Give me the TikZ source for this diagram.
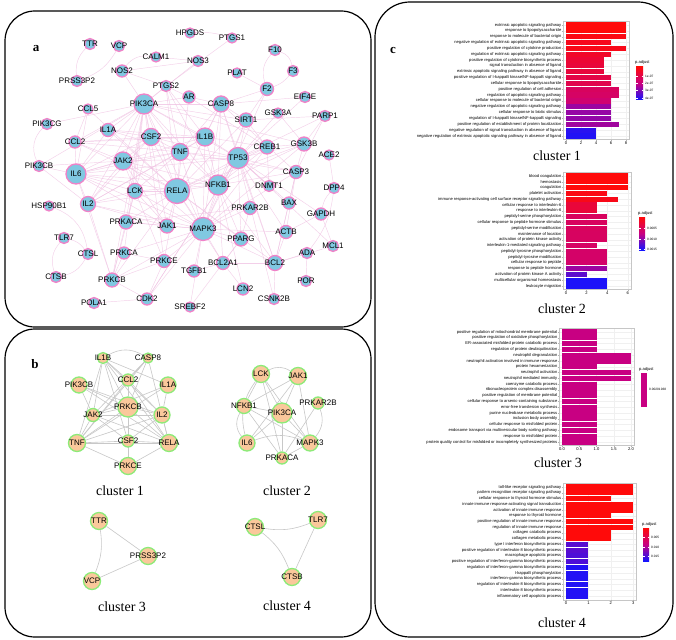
\documentclass[tikz,border=0pt]{standalone}
\usepackage{fontspec}
\setmainfont{Liberation Serif}
\setsansfont{Liberation Sans}
\usetikzlibrary{backgrounds}

\definecolor{nodeblue}{RGB}{128,200,225}
\definecolor{nodepink}{RGB}{240,130,200}
\definecolor{edgepink}{RGB}{240,192,226}
\definecolor{nodepeach}{RGB}{250,200,155}
\definecolor{nodegreen}{RGB}{140,235,120}
\definecolor{edgegray}{RGB}{200,200,200}
\definecolor{gored}{RGB}{255,10,10}
\definecolor{gomid}{RGB}{200,0,130}
\definecolor{goblue}{RGB}{20,20,255}

\tikzset{
  anode/.style={circle, fill=nodeblue, draw=nodepink, line width=1.3pt, inner sep=0pt},
  bnode/.style={circle, fill=nodepeach, draw=nodegreen, line width=1.3pt, inner sep=0pt},
  glabel/.style={font=\sffamily\fontsize{8}{8}\selectfont, text=black, inner sep=0pt},
  aedge/.style={draw=edgepink, line width=0.45pt, opacity=0.75},
  bedge/.style={draw=edgegray, line width=0.6pt},
  panel/.style={draw=black, line width=1.2pt, rounded corners=30pt},
  panlabel/.style={font=\bfseries\fontsize{13}{13}\selectfont, inner sep=0pt},
  clustercap/.style={font=\fontsize{14}{14}\selectfont, inner sep=0pt},
  golab/.style={font=\sffamily\fontsize{4.1}{4.1}\selectfont, anchor=east, inner sep=0pt},
  gotick/.style={font=\sffamily\fontsize{4.1}{4.1}\selectfont, inner sep=0pt},
  gokey/.style={font=\sffamily\fontsize{3.2}{3.2}\selectfont, anchor=west, inner sep=0pt},
  goframe/.style={draw=gray!45, line width=0.4pt},
  gogrid/.style={draw=gray!12, line width=0.3pt},
  gomark/.style={draw=gray!60, line width=0.3pt},
}

\begin{document}
\begin{tikzpicture}[x=1pt, y=-1pt]
\useasboundingbox (0,0) rectangle (676,639);

% Panels
\draw[panel] (5,11) rectangle (371,327);
\draw[panel] (5,329) rectangle (371,637);
\draw[panel, rounded corners=35pt] (375,2) rectangle (673,637);
\node[panlabel] (lab-a) at (36,49) {a};
\node[panlabel] (lab-b) at (35,364) {b};
\node[panlabel] (lab-c) at (393,50) {c};

% a: PPI network
\foreach \n/\x/\y/\d in {TTR/90/44/11, VCP/119/46/11, CALM1/156/57/10, NOS2/122/71/12,
  PRSS3P2/77/81/11, PTGS2/166/86/11, PIK3CA/144/104/20, CCL5/88/109/10, PIK3CG/47/124/11,
  IL1A/108/130/13, CCL2/75/142/12, CSF2/151/137/17, TNF/180/152/17, JAK2/123/161/18,
  PIK3CB/39/166/11, IL6/76/174/20, HPGDS/190/33/10, PTGS1/232/38/10, F10/275/50/11,
  NOS3/198/61/11, PLAT/237/73/10, F3/293/71/11, F2/267/89/13, AR/189/97/12,
  EIF4E/305/97/11, CASP8/221/104/16, GSK3A/278/113/10, PARP1/325/116/11, SIRT1/246/120/14,
  IL1B/205/137/18, GSK3B/304/144/14, CREB1/267/147/14, TP53/238/158/21, ACE2/329/155/10,
  CASP3/296/172/13, NFKB1/218/185/20, DNMT1/269/186/11, DPP4/334/188/11, LCK/135/191/15,
  RELA/177/191/25, HSP90B1/49/206/10, IL2/88/204/15, PRKACA/126/222/14, JAK1/167/226/14,
  TLR7/64/238/11, CTSL/88/254/11, PRKCA/124/253/12, PRKCE/164/261/13, CTSB/56/277/11,
  PRKCB/112/280/14, POLA1/94/303/11, CDK2/147/299/12, BAX/289/203/12, PRKAR2B/250/208/13,
  GAPDH/321/214/12, MAPK3/203/229/23, ACTB/286/232/13, PPARG/241/239/14, MCL1/333/246/11,
  ADA/307/253/11, BCL2A1/223/263/13, BCL2/275/263/15, TGFB1/194/271/12, POR/306/281/11,
  LCN2/243/289/12, CSNK2B/274/299/11, SREBF2/190/307/10}
  \node[anode, minimum size=\d pt, label={[glabel]center:\n}] (a-\n) at (\x,\y) {};

% b: clusters
\foreach \n/\x/\y/\d in {IL1B/103/358/11, CASP8/148/358/10, PIK3CB/79/385/16, CCL2/128/380/12,
  IL1A/168/385/16, PRKCB/128/407/20, JAK2/93/415/13, IL2/162/415/16, TNF/77/443/17,
  CSF2/128/441/12, RELA/169/443/17, PRKCE/128/466/17,
  LCK/261/374/17, JAK1/298/376/17, NFKB1/244/406/15, PIK3CA/282/413/20, PRKAR2B/318/403/12,
  IL6/247/443/16, MAPK3/310/443/16, PRKACA/282/458/12,
  TTR/99/521/17, PRSS3P2/148/556/17, VCP/92/581/17,
  CTSL/255/527/17, TLR7/318/520/17, CTSB/292/577/17}
  \node[bnode, minimum size=\d pt, label={[glabel]center:\n}] (b-\n) at (\x,\y) {};

\node[clustercap] (cap-b1) at (120,491) {cluster 1};
\node[clustercap] (cap-b2) at (287,491) {cluster 2};
\node[clustercap] (cap-b3) at (122,607) {cluster 3};
\node[clustercap] (cap-b4) at (287,606) {cluster 4};

\begin{scope}[on background layer]
  \fill[white] (0,0) rectangle (676,639);
  % a edges
  \foreach \src/\dst in {PIK3CA/IL1A, PIK3CA/CSF2, PIK3CA/TNF, PIK3CA/JAK2, PIK3CA/IL6, PIK3CA/LCK,
    PIK3CA/RELA, PIK3CA/NFKB1, PIK3CA/MAPK3, PIK3CA/PRKCB, PIK3CA/PRKCE, PIK3CA/PRKACA,
    PIK3CA/IL1B, PIK3CA/CASP8, PIK3CA/TP53, PIK3CA/NOS2, PIK3CA/PTGS2, PIK3CA/AR, PIK3CA/CCL2,
    PIK3CA/IL2, PIK3CA/JAK1, PIK3CA/PRKCA, PIK3CA/PIK3CG, PIK3CA/PIK3CB, PIK3CA/NOS3,
    PIK3CA/SIRT1, PIK3CA/GSK3B,
    RELA/TNF, RELA/IL1B, RELA/NFKB1, RELA/TP53, RELA/MAPK3, RELA/IL6, RELA/IL2, RELA/JAK2,
    RELA/CSF2, RELA/LCK, RELA/JAK1, RELA/PRKACA, RELA/CASP8, RELA/SIRT1, RELA/CREB1, RELA/IL1A,
    RELA/CCL2, RELA/PTGS2, RELA/PPARG, RELA/BCL2, RELA/BCL2A1, RELA/PRKCB, RELA/PRKCE, RELA/CCL5,
    RELA/GSK3B, RELA/AR,
    MAPK3/TP53, MAPK3/NFKB1, MAPK3/TNF, MAPK3/IL6, MAPK3/JAK2, MAPK3/JAK1, MAPK3/LCK, MAPK3/PRKCE,
    MAPK3/PRKCA, MAPK3/PRKACA, MAPK3/PRKCB, MAPK3/CREB1, MAPK3/PPARG, MAPK3/BCL2, MAPK3/BCL2A1,
    MAPK3/TGFB1, MAPK3/CASP3, MAPK3/GSK3B, MAPK3/PRKAR2B, MAPK3/CASP8, MAPK3/IL1B, MAPK3/SIRT1,
    MAPK3/CDK2, MAPK3/IL2, MAPK3/SREBF2, MAPK3/ACTB, MAPK3/F2,
    TP53/NFKB1, TP53/TNF, TP53/IL1B, TP53/SIRT1, TP53/CREB1, TP53/CASP3, TP53/CASP8, TP53/GSK3B,
    TP53/BAX, TP53/BCL2, TP53/DNMT1, TP53/IL6, TP53/CDK2, TP53/PARP1, TP53/GAPDH, TP53/MCL1,
    TP53/ACTB, TP53/PPARG, TP53/CSNK2B, TP53/GSK3A, TP53/EIF4E, TP53/JAK2, TP53/CSF2,
    NFKB1/TNF, NFKB1/IL1B, NFKB1/IL6, NFKB1/CASP8, NFKB1/SIRT1, NFKB1/CREB1, NFKB1/GSK3B,
    NFKB1/BCL2, NFKB1/BCL2A1, NFKB1/PPARG, NFKB1/LCN2, NFKB1/JAK2, NFKB1/LCK, NFKB1/PTGS2,
    NFKB1/CASP3,
    IL6/TNF, IL6/IL1B, IL6/JAK2, IL6/CSF2, IL6/IL2, IL6/CCL2, IL6/IL1A, IL6/LCK, IL6/JAK1,
    IL6/PIK3CB, IL6/CCL5, IL6/PRKCB,
    TNF/IL1B, TNF/CSF2, TNF/IL1A, TNF/CCL2, TNF/JAK2, TNF/CASP8, TNF/IL2, TNF/LCK, TNF/CASP3,
    TNF/PTGS2, IL1B/CSF2, IL1B/IL1A, IL1B/CCL2, IL1B/CASP8, IL1B/IL2, IL1B/PTGS2, IL1B/CREB1,
    JAK2/CSF2, JAK2/IL2, JAK2/JAK1, JAK2/LCK, JAK2/CCL2, JAK2/PIK3CB, CSF2/IL2, CSF2/IL1A,
    CSF2/CCL2, CSF2/LCK, LCK/IL2, LCK/JAK1, LCK/PRKACA, LCK/PRKCB, LCK/PRKCE, IL2/JAK1,
    IL2/PRKCB, IL2/PIK3CB, JAK1/PRKACA, PRKACA/PRKCB, PRKACA/PRKAR2B, PRKCA/PRKCB, PRKCA/PRKCE,
    PRKCE/PRKCB, PRKCE/CDK2, PRKCB/CDK2,
    CASP8/CASP3, CASP8/SIRT1, CASP8/AR, CASP8/F2, CASP8/EIF4E, CASP8/BCL2, CASP3/BAX, CASP3/BCL2,
    CASP3/GSK3B, CASP3/PARP1, CASP3/ACTB, BAX/BCL2, BCL2/MCL1, BCL2/BCL2A1, BCL2/ACTB,
    BCL2/CSNK2B, BCL2/ADA, GAPDH/ACTB, GAPDH/MCL1, ADA/POR, SIRT1/CREB1, SIRT1/PARP1,
    GSK3B/CREB1, GSK3B/PARP1, GSK3A/GSK3B, PTGS2/NOS2, PTGS2/AR, NOS2/NOS3, CALM1/NOS3,
    PTGS2/PTGS1, PLAT/F2, F2/SIRT1, POLA1/CDK2, CDK2/TP53, PPARG/BCL2A1, PPARG/SREBF2,
    PPARG/PRKAR2B, DNMT1/CREB1, CCL5/CCL2, AR/CREB1, TGFB1/BCL2A1, LCN2/BCL2A1, ACE2/DPP4}
    \draw[aedge] (a-\src) -- (a-\dst);
  \draw[aedge] (a-TTR) to[bend right=25] (a-PRSS3P2);
  \draw[aedge] (a-VCP) to[bend left=20] (a-PRSS3P2);
  \draw[aedge] (a-NOS2) to[bend left=30] (a-CALM1);
  \draw[aedge] (a-HPGDS) to[bend left=10] (a-PTGS1);
  \draw[aedge] (a-F10) to[bend right=30] (a-F2);
  \draw[aedge] (a-F10) to[bend left=30] (a-F3);
  \draw[aedge] (a-F3) to[bend left=15] (a-F2);
  \draw[aedge] (a-PIK3CG) to[bend right=35] (a-PIK3CB);
  \draw[aedge] (a-HSP90B1) to[bend left=30] (a-CTSL);
  \draw[aedge] (a-TLR7) to[bend right=30] (a-CTSB);
  \draw[aedge] (a-CTSL) to[bend left=25] (a-CTSB);
  \draw[aedge] (a-TLR7) to[bend left=20] (a-CTSL);
  \draw[aedge] (a-GAPDH) to[bend left=15] (a-DPP4);
  \draw[aedge] (a-ADA) to[bend right=15] (a-DPP4);
  % b edges
  \foreach \src/\dst in {IL1B/CCL2, IL1B/PRKCB, IL1B/JAK2, IL1B/TNF, IL1B/RELA, IL1B/IL2,
    IL1B/CSF2, IL1B/IL1A, CASP8/CCL2, CASP8/PRKCB, CASP8/RELA, CASP8/TNF, CASP8/JAK2,
    PIK3CB/JAK2, PIK3CB/IL2, PIK3CB/RELA, PIK3CB/PRKCB, CCL2/PRKCB, CCL2/TNF, CCL2/RELA,
    CCL2/IL2, IL1A/TNF, IL1A/IL2, IL1A/JAK2, PRKCB/JAK2, PRKCB/IL2, PRKCB/TNF, PRKCB/RELA,
    PRKCB/CSF2, PRKCB/PRKCE, JAK2/TNF, JAK2/IL2, JAK2/RELA, JAK2/CSF2, IL2/TNF, IL2/RELA,
    IL2/CSF2, TNF/CSF2, TNF/RELA, TNF/PRKCE, CSF2/RELA, CSF2/PRKCE, RELA/PRKCE,
    LCK/PIK3CA, LCK/NFKB1, LCK/MAPK3, LCK/PRKACA, JAK1/PIK3CA, JAK1/NFKB1, JAK1/IL6,
    JAK1/MAPK3, NFKB1/PIK3CA, NFKB1/MAPK3, NFKB1/PRKACA, PIK3CA/IL6, PIK3CA/MAPK3,
    PIK3CA/PRKACA, PRKAR2B/PRKACA, MAPK3/PRKACA,
    TTR/PRSS3P2, VCP/PRSS3P2, TLR7/CTSB}
    \draw[bedge] (b-\src) -- (b-\dst);
  \draw[bedge] (b-IL1B) to[bend left=30] (b-CASP8);
  \draw[bedge] (b-LCK) to[bend left=30] (b-JAK1);
  \draw[bedge] (b-LCK) to[bend right=25] (b-IL6);
  \draw[bedge] (b-NFKB1) to[bend right=35] (b-IL6);
  \draw[bedge] (b-PRKAR2B) to[bend left=30] (b-MAPK3);
  \draw[bedge] (b-IL6) to[bend left=20] (b-MAPK3);
  \draw[bedge] (b-TTR) to[bend left=15] (b-VCP);
  \draw[bedge] (b-CTSL) to[bend right=15] (b-TLR7);
  \draw[bedge] (b-CTSL) to[bend left=15] (b-CTSB);
\end{scope}

% c: GO enrichment, cluster 1
\foreach \k in {0,2,4,6,8} \draw[gogrid] (566+\k*7.5,21) -- (566+\k*7.5,139.6);
\foreach \val/\col/\txt [count=\i from 0] in {
  8/gored/{extrinsic apoptotic signaling pathway},
  8/gored/{response to lipopolysaccharide},
  8/gomid!8!gored/{response to molecule of bacterial origin},
  6/gomid!15!gored/{negative regulation of extrinsic apoptotic signaling pathway},
  8/gomid!12!gored/{positive regulation of cytokine production},
  6/gomid!25!gored/{regulation of extrinsic apoptotic signaling pathway},
  5/gomid!35!gored/{positive regulation of cytokine biosynthetic process},
  5/gomid!40!gored/{signal transduction in absence of ligand},
  5/gomid!42!gored/{extrinsic apoptotic signaling pathway in absence of ligand},
  6/gomid!50!gored/{positive regulation of I-kappaB kinase/NF-kappaB signaling},
  6/gomid!55!gored/{cellular response to lipopolysaccharide},
  7/gomid!70!gored/{positive regulation of cell adhesion},
  7/gomid!75!gored/{regulation of apoptotic signaling pathway},
  6/gomid!85!gored/{cellular response to molecule of bacterial origin},
  6/goblue!25!gomid/{negative regulation of apoptotic signaling pathway},
  6/goblue!28!gomid/{cellular response to biotic stimulus},
  6/goblue!30!gomid/{regulation of I-kappaB kinase/NF-kappaB signaling},
  7/goblue!22!gomid/{positive regulation of establishment of protein localization},
  4/goblue!88!gomid/{negative regulation of signal transduction in absence of ligand},
  4/goblue!92!gomid/{negative regulation of extrinsic apoptotic signaling pathway in absence of ligand}}{
  \draw[gogrid] (563,25+\i*5.84) -- (629,25+\i*5.84);
  \fill[\col] (566,25+\i*5.84-2.6) rectangle (566+\val*7.5,25+\i*5.84+2.6);
  \node[golab] (go1-\i) at (561.5,25+\i*5.84) {\txt};
  \draw[gomark] (561.8,25+\i*5.84) -- (563,25+\i*5.84);
}
\draw[goframe] (563,21) rectangle (629,139.6);
\foreach \k [count=\j] in {0,2,4,6,8} {
  \draw[gomark] (566+\k*7.5,139.6) -- (566+\k*7.5,140.8);
  \node[gotick] (go1x\j) at (566+\k*7.5,143.5) {\k};
}
\node[gotick, anchor=west] (key1) at (635,62) {p.adjust};
\shade[top color=gored, bottom color=goblue, middle color=gomid] (636,67) rectangle (643,100);
\foreach \k/\y [count=\j] in {1e-07/76,2e-07/83,3e-07/90,4e-07/98} {
  \draw[white, line width=0.3pt] (636,\y) -- (637.5,\y) (641.5,\y) -- (643,\y);
  \node[gokey] (key1t\j) at (645,\y) {\k};
}
\node[clustercap] (cap-c1) at (557,156) {cluster 1};

% c: cluster 2
\foreach \k in {0,2,4,6} \draw[gogrid] (566+\k*10.3,172.4) -- (566+\k*10.3,289.6);
\foreach \val/\col/\txt [count=\i from 0] in {
  6/gored/{blood coagulation},
  6/gored/{hemostasis},
  6/gored/{coagulation},
  4/gomid!8!gored/{platelet activation},
  5/gomid!12!gored/{immune response-activating cell surface receptor signaling pathway},
  3/gomid!40!gored/{cellular response to interleukin-6},
  3/gomid!40!gored/{response to interleukin-6},
  4/gomid!70!gored/{peptidyl-serine phosphorylation},
  4/gomid!70!gored/{cellular response to peptide hormone stimulus},
  4/gomid!70!gored/{peptidyl-serine modification},
  4/gomid!72!gored/{maintenance of location},
  4/gomid!72!gored/{activation of protein kinase activity},
  3/gomid!75!gored/{interleukin-1-mediated signaling pathway},
  4/gomid!78!gored/{peptidyl-tyrosine phosphorylation},
  4/gomid!78!gored/{peptidyl-tyrosine modification},
  4/gomid!80!gored/{cellular response to peptide},
  4/goblue!25!gomid/{response to peptide hormone},
  2/goblue!60!gomid/{activation of protein kinase A activity},
  4/goblue!95!gomid/{multicellular organismal homeostasis},
  4/goblue!95!gomid/{leukocyte migration}}{
  \draw[gogrid] (563,176+\i*5.79) -- (631,176+\i*5.79);
  \fill[\col] (566,176+\i*5.79-2.6) rectangle (566+\val*10.3,176+\i*5.79+2.6);
  \node[golab] (go2-\i) at (561.5,176+\i*5.79) {\txt};
  \draw[gomark] (561.8,176+\i*5.79) -- (563,176+\i*5.79);
}
\draw[goframe] (563,172.4) rectangle (631,289.6);
\foreach \k [count=\j] in {0,2,4,6} {
  \draw[gomark] (566+\k*10.3,289.6) -- (566+\k*10.3,290.8);
  \node[gotick] (go2x\j) at (566+\k*10.3,293.5) {\k};
}
\node[gotick, anchor=west] (key2) at (638,213) {p.adjust};
\shade[top color=gored, bottom color=goblue, middle color=gomid] (639,217) rectangle (645,250);
\foreach \k/\y [count=\j] in {0.0005/228,0.0010/239,0.0015/249} {
  \draw[white, line width=0.3pt] (639,\y) -- (640.5,\y) (643.5,\y) -- (645,\y);
  \node[gokey] (key2t\j) at (647,\y) {\k};
}
\node[clustercap] (cap-c2) at (562,309) {cluster 2};

% c: cluster 3
\foreach \k in {0,0.5,1,1.5,2} \draw[gogrid] (562+\k*34.5,328.4) -- (562+\k*34.5,445.6);
\foreach \val/\txt [count=\i from 0] in {
  1/{positive regulation of mitochondrial membrane potential},
  1/{positive regulation of oxidative phosphorylation},
  1/{ER-associated misfolded protein catabolic process},
  1/{regulation of protein deubiquitination},
  2/{neutrophil degranulation},
  2/{neutrophil activation involved in immune response},
  1/{protein hexamerization},
  2/{neutrophil activation},
  2/{neutrophil mediated immunity},
  1/{coenzyme catabolic process},
  1/{ribonucleoprotein complex disassembly},
  1/{positive regulation of membrane potential},
  1/{cellular response to arsenic-containing substance},
  1/{error-free translesion synthesis},
  1/{purine nucleobase metabolic process},
  1/{inclusion body assembly},
  1/{cellular response to misfolded protein},
  1/{endosome transport via multivesicular body sorting pathway},
  1/{response to misfolded protein},
  1/{protein quality control for misfolded or incompletely synthesized proteins}}{
  \draw[gogrid] (559,332+\i*5.79) -- (634,332+\i*5.79);
  \fill[gomid] (562,332+\i*5.79-2.6) rectangle (562+\val*34.5,332+\i*5.79+2.6);
  \node[golab] (go3-\i) at (557.5,332+\i*5.79) {\txt};
  \draw[gomark] (557.8,332+\i*5.79) -- (559,332+\i*5.79);
}
\draw[goframe] (559,328.4) rectangle (634,445.6);
\foreach \k/\t [count=\j] in {0/0.0,0.5/0.5,1/1.0,1.5/1.5,2/2.0} {
  \draw[gomark] (562+\k*34.5,445.6) -- (562+\k*34.5,446.8);
  \node[gotick] (go3x\j) at (562+\k*34.5,449.5) {\t};
}
\node[gotick, anchor=west] (key3) at (639,369) {p.adjust};
\fill[gomid] (641,373) rectangle (647,407);
\node[gokey] (key3t1) at (649,389) {0.00201938};
\node[clustercap] (cap-c3) at (558,463) {cluster 3};

% c: cluster 4
\foreach \k in {0,1,2,3} \draw[gogrid] (566+\k*22.4,483.3) -- (566+\k*22.4,599.7);
\foreach \val/\col/\txt [count=\i from 0] in {
  3/gored/{toll-like receptor signaling pathway},
  3/gored/{pattern recognition receptor signaling pathway},
  2/gored/{cellular response to thyroid hormone stimulus},
  3/gored/{innate immune response-activating signal transduction},
  3/gored/{activation of innate immune response},
  2/gored/{response to thyroid hormone},
  3/gored/{positive regulation of innate immune response},
  3/gored/{regulation of innate immune response},
  2/gored/{collagen catabolic process},
  2/gored/{collagen metabolic process},
  1/goblue!62!gomid/{type I interferon biosynthetic process},
  1/goblue!62!gomid/{positive regulation of interleukin-8 biosynthetic process},
  1/goblue!68!gomid/{macrophage apoptotic process},
  1/goblue!68!gomid/{positive regulation of interferon-gamma biosynthetic process},
  1/goblue!92!gomid/{regulation of interferon-gamma biosynthetic process},
  1/goblue!92!gomid/{I-kappaB phosphorylation},
  1/goblue!92!gomid/{interferon-gamma biosynthetic process},
  1/goblue!92!gomid/{regulation of interleukin-8 biosynthetic process},
  1/goblue!92!gomid/{interleukin-8 biosynthetic process},
  1/goblue!92!gomid/{inflammatory cell apoptotic process}}{
  \draw[gogrid] (563,487+\i*5.74) -- (636,487+\i*5.74);
  \fill[\col] (566,487+\i*5.74-2.6) rectangle (566+\val*22.4,487+\i*5.74+2.6);
  \node[golab] (go4-\i) at (561.5,487+\i*5.74) {\txt};
  \draw[gomark] (561.8,487+\i*5.74) -- (563,487+\i*5.74);
}
\draw[goframe] (563,483.3) rectangle (636,599.7);
\foreach \k [count=\j] in {0,1,2,3} {
  \draw[gomark] (566+\k*22.4,599.7) -- (566+\k*22.4,600.9);
  \node[gotick] (go4x\j) at (566+\k*22.4,603.5) {\k};
}
\node[gotick, anchor=west] (key4) at (642,524) {p.adjust};
\shade[top color=gored, bottom color=goblue, middle color=gomid] (643,528) rectangle (649,561);
\foreach \k/\y [count=\j] in {0.005/537,0.010/547,0.015/556} {
  \draw[white, line width=0.3pt] (643,\y) -- (644.5,\y) (647.5,\y) -- (649,\y);
  \node[gokey] (key4t\j) at (651,\y) {\k};
}
\node[clustercap] (cap-c4) at (562,623) {cluster 4};
\end{tikzpicture}
\end{document}
